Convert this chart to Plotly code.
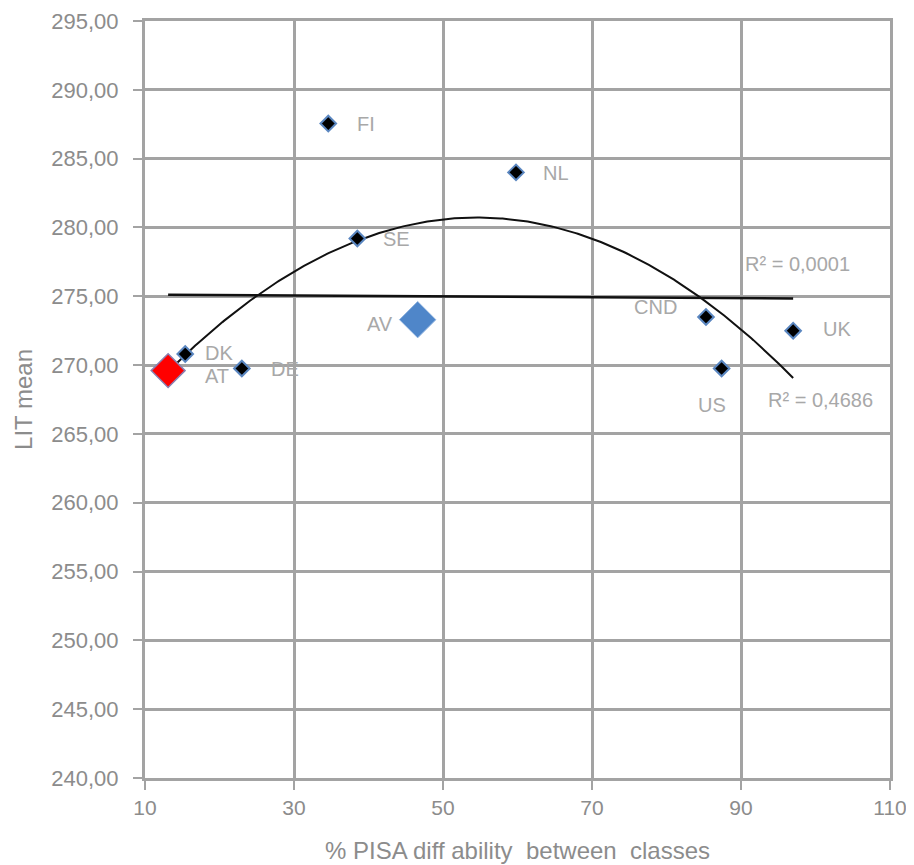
import numpy as np
import plotly.graph_objects as go

countries = ["FI", "NL", "SE", "DK", "AT", "DE", "CND", "US", "UK"]
pisa_diff = [34.6, 59.8, 38.5, 15.4, 13.1, 23.0, 85.3, 87.4, 97.0]
lit_mean = [287.55, 284.0, 279.2, 270.8, 269.6, 269.75, 273.5, 269.75, 272.5]
av_label = "AV"
av_x = 46.6
av_y = 273.3
r2_labels = ["R² = 0,0001", "R² = 0,4686"]
y_ticks = [240, 245, 250, 255, 260, 265, 270, 275, 280, 285, 290, 295]
x_ticks = [10, 30, 50, 70, 90, 110]

# trendlines fitted on all points (countries + average), as in the source chart
x_all = np.array(pisa_diff + [av_x])
y_all = np.array(lit_mean + [av_y])
lin = np.polyfit(x_all, y_all, 1)
quad = np.polyfit(x_all, y_all, 2)
xs = np.linspace(x_all.min(), x_all.max(), 300)

GRID = "#a3a3a3"
TXT = "#8c8c8c"
LBL = "#a8a8a8"

fig = go.Figure()
fig.add_trace(go.Scatter(x=[x_all.min(), x_all.max()], y=np.polyval(lin, [x_all.min(), x_all.max()]),
                         mode="lines", line=dict(color="#111111", width=2.5), hoverinfo="skip"))
fig.add_trace(go.Scatter(x=xs, y=np.polyval(quad, xs), mode="lines",
                         line=dict(color="#111111", width=2), hoverinfo="skip"))
fig.add_trace(go.Scatter(x=[av_x], y=[av_y], mode="markers",
                         marker=dict(symbol="diamond", size=28, color="#4f86c9",
                                     line=dict(color="#8fb3e0", width=1))))
others = [i for i, c in enumerate(countries) if c != "AT"]
fig.add_trace(go.Scatter(x=[pisa_diff[i] for i in others], y=[lit_mean[i] for i in others],
                         mode="markers",
                         marker=dict(symbol="diamond", size=12, color="#000000",
                                     line=dict(color="#5a86c0", width=2))))
ai = countries.index("AT")
fig.add_trace(go.Scatter(x=[pisa_diff[ai]], y=[lit_mean[ai]], mode="markers",
                         marker=dict(symbol="diamond", size=26, color="#ff0000",
                                     line=dict(color="#8a7fb0", width=1.5))))

label_pos = {
    "FI": (27, 0, "left"), "NL": (25, -1, "left"), "SE": (24, -1, "left"),
    "DK": (18, 1, "left"), "AT": (35, -5, "left"), "DE": (27, 0, "left"),
    "CND": (-27, 10, "right"), "US": (-10, -36, "center"), "UK": (28, 2, "left"),
}
for c, xv, yv in zip(countries, pisa_diff, lit_mean):
    dx, dy, anc = label_pos[c]
    fig.add_annotation(x=xv, y=yv, text=c, showarrow=False, xanchor=anc,
                       xshift=dx, yshift=dy, font=dict(size=20, color=LBL))
fig.add_annotation(x=av_x, y=av_y, text=av_label, showarrow=False,
                   xanchor="right", xshift=-23, yshift=-4, font=dict(size=20, color=LBL))
fig.add_annotation(x=90.3, y=277.35, text=r2_labels[0], showarrow=False, xanchor="left",
                   font=dict(size=20, color=LBL))
fig.add_annotation(x=93.3, y=267.5, text=r2_labels[1], showarrow=False, xanchor="left",
                   font=dict(size=20, color=LBL))

fig.update_layout(
    width=914, height=865, showlegend=False,
    paper_bgcolor="white", plot_bgcolor="white",
    margin=dict(l=137, r=32, t=13, b=95, autoexpand=False),
    separators=", ",
    font=dict(family="Liberation Sans, Arial, sans-serif", color=TXT, size=20),
)
fig.update_xaxes(range=[10, 110], tickvals=x_ticks, showgrid=True, gridcolor=GRID,
                 gridwidth=3, zeroline=False, showline=True, mirror=True,
                 linecolor=GRID, linewidth=3, ticks="outside", automargin=False,
                 ticklen=9, tickcolor=GRID, tickwidth=2, ticklabeloverflow="allow",
                 title=dict(text="% PISA diff ability  between  classes",
                            font=dict(size=24, color=TXT), standoff=24),
                 tickfont=dict(size=21, color=TXT))
fig.update_yaxes(range=[240, 295], tickvals=y_ticks, tickformat=".2f", showgrid=True,
                 gridcolor=GRID, gridwidth=3, zeroline=False, showline=True, mirror=True,
                 linecolor=GRID, linewidth=3, automargin=False,
                 ticks="outside", ticklen=9, tickcolor=GRID, tickwidth=2,
                 ticklabelstandoff=10, ticklabeloverflow="allow",
                 title=dict(text="LIT mean", font=dict(size=24, color=TXT), standoff=12),
                 tickfont=dict(size=22, color=TXT))

fig.write_html("out.html")
